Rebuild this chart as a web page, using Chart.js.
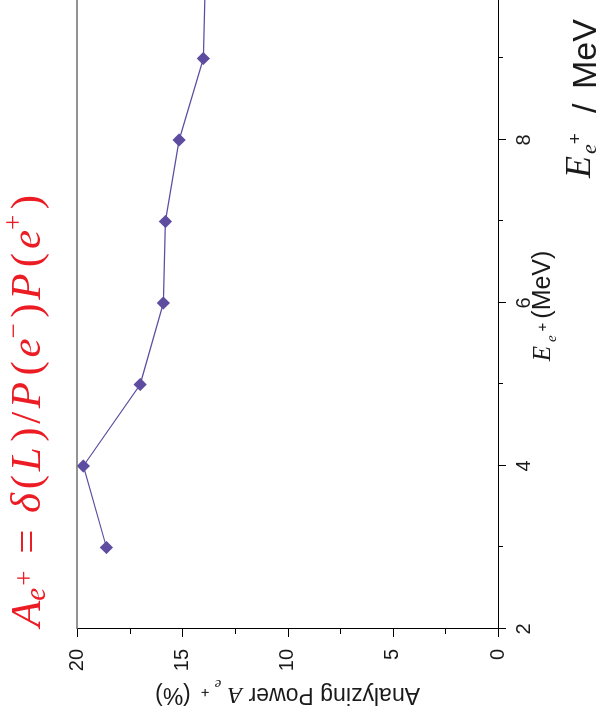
<!DOCTYPE html>
<html>
<head>
<meta charset="utf-8">
<script src="https://cdn.jsdelivr.net/npm/chart.js@4.4.1/dist/chart.umd.min.js"></script>
<style>
html, body { margin: 0; padding: 0; background: #fff; overflow: hidden; width: 605px; height: 719px; }
/* the chart is laid out landscape and turned a quarter turn to the left */
#wrap { position: absolute; left: 0; top: 0; width: 780px; height: 605px;
        transform-origin: 0 0; transform: translate(0, 719px) rotate(-90deg); }
</style>
</head>
<body>
<div id="wrap"><canvas id="apChart" width="780" height="605"></canvas></div>
<script>
// positron energy (MeV) and analyzing power (%)
var energy = [3, 4, 5, 6, 7, 8, 9, 10];
var power = [18.6, 19.7, 17.0, 15.9, 15.8, 15.15, 14.0, 13.9];
var energyTicks = [2, 4, 6, 8, 10];
var powerTicks = [0, 5, 10, 15, 20];

var purple = '#5e4ca0';
var red = '#ec1c24';
var ink = '#1a1a1a';
var SANS = '"Liberation Sans", Arial, sans-serif';
var SERIF = '"Liberation Serif", "Times New Roman", serif';

function runsWidth(ctx, runs, extra) {
  var w = 0;
  runs.forEach(function (r, i) {
    ctx.font = r.font;
    w += (r.gap || 0) + (i && !r.attach ? extra || 0 : 0) + ctx.measureText(r.text).width;
  });
  return w;
}

function drawRuns(ctx, runs, x, y, extra) {
  runs.forEach(function (r, i) {
    ctx.font = r.font;
    x += (r.gap || 0) + (i && !r.attach ? extra || 0 : 0);
    ctx.fillText(r.text, x, y + (r.dy || 0));
    x += ctx.measureText(r.text).width;
  });
  return x;
}

// A_{e+} = δ(L)/P(e−)P(e+)
function formulaRuns(s) {
  var it = 'italic ' + s + 'px ' + SERIF;
  var up = s + 'px ' + SERIF;
  var sup = Math.round(s * 0.62) + 'px ' + SERIF;
  return [
    { text: 'A', font: it },
    { text: 'e', font: 'italic ' + Math.round(s * 0.68) + 'px ' + SERIF, dy: s * 0.12, attach: true },
    { text: '+', font: sup, dy: -s * 0.16, gap: s * 0.05, attach: true },
    { text: '=', font: up, gap: s * 0.3 },
    { text: 'δ', font: it, gap: s * 0.3 },
    { text: '(', font: up },
    { text: 'L', font: it },
    { text: ')', font: up, gap: s * 0.04 },
    { text: '/', font: up },
    { text: 'P', font: it },
    { text: '(', font: up, gap: s * 0.06 },
    { text: 'e', font: it },
    { text: '\u2212', font: sup, dy: -s * 0.42, attach: true },
    { text: ')', font: up, gap: s * 0.04 },
    { text: 'P', font: it },
    { text: '(', font: up, gap: s * 0.06 },
    { text: 'e', font: it },
    { text: '+', font: sup, dy: -s * 0.42, attach: true },
    { text: ')', font: up, gap: s * 0.04 }
  ];
}

var decorations = {
  id: 'decorations',
  afterDraw: function (chart) {
    var ctx = chart.ctx;
    var area = chart.chartArea;
    var xs = chart.scales.x, ys = chart.scales.y;
    ctx.save();

    // frame on the far sides
    ctx.strokeStyle = '#707070';
    ctx.lineWidth = 1.4;
    ctx.beginPath();
    ctx.moveTo(area.left, area.top);
    ctx.lineTo(area.right, area.top);
    ctx.lineTo(area.right, area.bottom);
    ctx.stroke();

    // major and minor tick marks
    ctx.strokeStyle = '#000';
    ctx.lineWidth = 1;
    ctx.beginPath();
    for (var e = xs.min; e <= xs.max; e += 1) {
      var px = Math.round(xs.getPixelForValue(e)) + 0.5;
      var len = e % 2 === 0 ? 8 : 5;
      ctx.moveTo(px, area.bottom);
      ctx.lineTo(px, area.bottom + len);
    }
    for (var a = ys.min; a <= ys.max; a += 2.5) {
      var py = Math.round(ys.getPixelForValue(a)) + 0.5;
      var l2 = a % 5 === 0 ? 8 : 5;
      ctx.moveTo(area.left, py);
      ctx.lineTo(area.left - l2, py);
    }
    ctx.stroke();

    ctx.fillStyle = ink;
    ctx.textBaseline = 'alphabetic';
    ctx.textAlign = 'left';

    // x axis title: E_{e+} (MeV)
    var xt = [
      { text: 'E', font: 'italic 25px ' + SERIF },
      { text: 'e', font: 'italic 15px ' + SERIF, dy: 6, gap: 4 },
      { text: '+', font: '15px ' + SANS, dy: -3, gap: 4 },
      { text: '(MeV)', font: '25px ' + SANS, gap: 4 }
    ];
    var xc = (area.left + area.right) / 2 - 3;
    drawRuns(ctx, xt, xc - runsWidth(ctx, xt) / 2, 550);

    // y axis title, turned to read upwards
    var yt = [
      { text: 'Analyzing Power ', font: '23px ' + SANS },
      { text: 'A', font: 'italic 23px ' + SERIF },
      { text: 'e', font: 'italic 15px ' + SERIF, dy: 8, gap: 7 },
      { text: '+', font: '15px ' + SANS, dy: 0, gap: 5 },
      { text: '(%)', font: '23px ' + SANS, gap: 10 }
    ];
    var yc = (area.top + area.bottom) / 2;
    ctx.save();
    ctx.translate(31, yc);
    ctx.rotate(-Math.PI / 2);
    drawRuns(ctx, yt, -runsWidth(ctx, yt) / 2, 0);
    ctx.restore();

    // large unit label under the energy axis
    drawRuns(ctx, [
      { text: 'E', font: 'italic 36px ' + SERIF },
      { text: 'e', font: 'italic 22px ' + SERIF, dy: 6, gap: 2 },
      { text: '+', font: '19px ' + SANS, dy: -9, gap: 0 }
    ], 541, 590);
    ctx.font = '34px ' + SANS;
    ctx.fillText('/', 606, 596);
    ctx.fillText('MeV', 630, 596);

    // defining formula in red above the plot
    ctx.fillStyle = red;
    var size = 43;
    var runs = formulaRuns(size);
    var n = runs.filter(function (r, i) { return i && !r.attach; }).length;
    var spread = (432 - runsWidth(ctx, runs, 0)) / n;
    drawRuns(ctx, runs, 92, 40, spread);

    ctx.restore();
  }
};

new Chart(document.getElementById('apChart'), {
  type: 'line',
  data: {
    labels: energy,
    datasets: [{
      data: energy.map(function (e, i) { return { x: e, y: power[i] }; }),
      borderColor: purple,
      backgroundColor: purple,
      borderWidth: 1.2,
      tension: 0,
      pointStyle: 'rectRot',
      pointRadius: 6.6,
      pointBorderWidth: 0,
      pointBackgroundColor: purple,
      clip: false
    }]
  },
  options: {
    responsive: false,
    animation: false,
    layout: { padding: { left: 0, top: 77, right: 38, bottom: 0 } },
    plugins: { legend: { display: false }, tooltip: { enabled: false } },
    scales: {
      x: {
        type: 'linear',
        min: 2,
        max: 10,
        afterFit: function (s) { s.height = 107; },
        afterBuildTicks: function (s) { s.ticks = energyTicks.map(function (v) { return { value: v }; }); },
        grid: { display: false, drawTicks: false },
        border: { display: true, color: '#000', width: 1 },
        ticks: { padding: 14, color: ink, font: { family: SANS, size: 20 }, maxRotation: 0 }
      },
      y: {
        type: 'linear',
        min: 0,
        max: 20,
        afterFit: function (s) { s.width = 90; },
        afterBuildTicks: function (s) { s.ticks = powerTicks.map(function (v) { return { value: v }; }); },
        grid: { display: false, drawTicks: false },
        border: { display: true, color: '#000', width: 1 },
        ticks: { padding: 20, color: ink, font: { family: SANS, size: 20 } }
      }
    }
  },
  plugins: [decorations]
});
</script>
</body>
</html>
